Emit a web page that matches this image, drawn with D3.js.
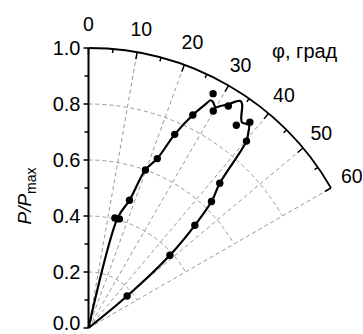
<!DOCTYPE html>
<html>
<head>
<meta charset="utf-8">
<script src="https://cdn.jsdelivr.net/npm/d3@7"></script>
<style>
  body { margin: 0; background: #fff; }
  svg { display: block; font-family: "Liberation Sans", Arial, sans-serif; }
</style>
</head>
<body>
<div id="chart"></div>
<script>
// measured points: angle (deg), P/Pmax
const dotAngles = [13.5, 15.8, 17.8, 19.8, 22.1, 24.0, 26.1, 28.0, 29.9, 32.2, 36.1, 38.1, 40.2, 42.2, 44.2, 46.0, 48.2, 50.4];
const dotValues = [0.404, 0.405, 0.479, 0.600, 0.653, 0.757, 0.847, 0.948, 0.894, 0.937, 0.896, 0.934, 0.874, 0.698, 0.630, 0.528, 0.390, 0.179];

// smoothed curve
const lineAngles = [14.0, 14.8, 17.8, 19.8, 22.1, 24.0, 26.1, 27.6, 28.2, 28.8, 29.9, 30.7, 32.0, 33.0, 33.8, 34.5, 36.0, 36.8, 38.3, 39.3, 40.2, 42.2, 44.2, 46.0, 48.2, 50.4, 51.0];
const lineValues = [0.0, 0.406, 0.479, 0.600, 0.653, 0.757, 0.847, 0.901, 0.923, 0.922, 0.910, 0.922, 0.942, 0.964, 0.976, 0.969, 0.928, 0.916, 0.924, 0.901, 0.874, 0.698, 0.630, 0.528, 0.390, 0.179, 0.0];

const angleTicks = [0, 10, 20, 30, 40, 50, 60];
const radiusTicks = [0.0, 0.2, 0.4, 0.6, 0.8, 1.0];

const width = 363, height = 334;
const cx = 88.5, cy = 328, R = 280;

const svg = d3.select("#chart").append("svg")
  .attr("width", width)
  .attr("height", height);

const g = svg.append("g").attr("transform", "translate(" + cx + "," + cy + ")");

const r = d3.scaleLinear().domain([0, 1]).range([0, R]);
const a = d3.scaleLinear().domain([0, 60]).range([0, Math.PI / 3]);

// helper: polar -> xy (0 deg is up, clockwise)
const px = (deg, v) => r(v) * Math.sin(a(deg));
const py = (deg, v) => -r(v) * Math.cos(a(deg));

function arcPath(radius) {
  const p = d3.path();
  p.moveTo(0, -radius);
  p.arc(0, 0, radius, -Math.PI / 2, -Math.PI / 2 + a(60));
  return p.toString();
}

// grid
const grid = g.append("g")
  .attr("fill", "none")
  .attr("stroke", "#999")
  .attr("stroke-width", 1)
  .attr("stroke-dasharray", "4,3");

grid.selectAll(".garc")
  .data([0.2, 0.4, 0.6, 0.8])
  .enter().append("path")
  .attr("d", d => arcPath(r(d)));

grid.selectAll(".gray")
  .data([10, 20, 30, 40, 50, 60])
  .enter().append("line")
  .attr("x1", 0).attr("y1", 0)
  .attr("x2", d => px(d, 1)).attr("y2", d => py(d, 1));

// outer arc + ticks
g.append("path")
  .attr("d", arcPath(R))
  .attr("fill", "none")
  .attr("stroke", "#000")
  .attr("stroke-width", 1.8);

g.selectAll(".atick")
  .data(d3.range(0, 61, 5))
  .enter().append("line")
  .attr("x1", d => px(d, 1)).attr("y1", d => py(d, 1))
  .attr("x2", d => px(d, 1 - (d % 10 === 0 ? 7 : 4) / R))
  .attr("y2", d => py(d, 1 - (d % 10 === 0 ? 7 : 4) / R))
  .attr("stroke", "#000")
  .attr("stroke-width", 1.5);

g.selectAll(".alabel")
  .data(angleTicks)
  .enter().append("text")
  .attr("x", d => px(d, 304 / R))
  .attr("y", d => py(d, 304 / R))
  .attr("text-anchor", "middle")
  .attr("dominant-baseline", "central")
  .attr("font-size", 19.5)
  .text(d => d);

g.append("text")
  .attr("x", 272 - cx)
  .attr("y", 58 - cy)
  .attr("font-size", 20)
  .text("φ, град");

// radial (vertical) axis
g.append("line")
  .attr("x1", 0).attr("y1", 0)
  .attr("x2", 0).attr("y2", -R)
  .attr("stroke", "#000")
  .attr("stroke-width", 2);

g.selectAll(".rtick")
  .data(d3.range(0, 11).map(i => i / 10))
  .enter().append("line")
  .attr("x1", 0)
  .attr("x2", (d, i) => i % 2 === 0 ? -5 : -4)
  .attr("y1", d => -r(d)).attr("y2", d => -r(d))
  .attr("stroke", "#000")
  .attr("stroke-width", 1.5);

g.selectAll(".rlabel")
  .data(radiusTicks)
  .enter().append("text")
  .attr("x", -8)
  .attr("y", d => -r(d) - (d === 0 ? 5 : 0))
  .attr("text-anchor", "end")
  .attr("dominant-baseline", "central")
  .attr("font-size", 20)
  .text(d => d.toFixed(1));

const title = svg.append("text")
  .attr("transform", "translate(31,196) rotate(-90)")
  .attr("text-anchor", "middle")
  .attr("font-size", 19);
title.append("tspan").attr("font-style", "italic").text("P/P");
title.append("tspan").attr("font-size", 14).attr("dy", 5).text("max");

// curve
const lineData = lineAngles.map((d, i) => [d, lineValues[i]]);
const line = d3.lineRadial()
  .angle(d => a(d[0]))
  .radius(d => r(d[1]))
  .curve(d3.curveCatmullRom.alpha(0.5));

g.append("path")
  .datum(lineData)
  .attr("d", line)
  .attr("fill", "none")
  .attr("stroke", "#000")
  .attr("stroke-width", 2.2)
  .attr("stroke-linejoin", "round");

// dots
const dotData = dotAngles.map((d, i) => [d, dotValues[i]]);
g.selectAll(".dot")
  .data(dotData)
  .enter().append("circle")
  .attr("cx", d => px(d[0], d[1]))
  .attr("cy", d => py(d[0], d[1]))
  .attr("r", 3.7)
  .attr("fill", "#000");
</script>
</body>
</html>
